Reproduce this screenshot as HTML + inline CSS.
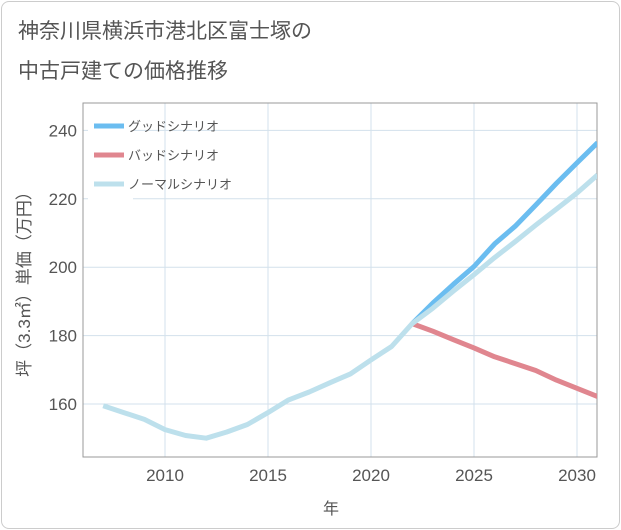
<!DOCTYPE html>
<html><head><meta charset="utf-8"><style>
body{margin:0;background:#fff;font-family:"Liberation Sans","Noto Sans CJK JP",sans-serif}
#card{position:absolute;left:1px;top:1px;width:617px;height:526px;border:1px solid #ccc;border-radius:8px;background:#fff}
</style></head><body>
<div id="card"></div>
<svg id="chart" width="621" height="530" style="position:absolute;left:0;top:0">
<text x="18" y="38" font-size="21" fill="#555">神奈川県横浜市港北区富士塚の</text>
<text x="18" y="78" font-size="21" fill="#555">中古戸建ての価格推移</text>
<g id="grid"></g>
<rect x="83" y="103" width="514" height="354" fill="none" stroke="#999" stroke-width="1"/>
<defs><clipPath id="clip"><rect x="83" y="103" width="514" height="354"/></clipPath></defs>
<g id="lines" clip-path="url(#clip)"></g>
<g id="legend"></g>
<text x="0" y="0" transform="translate(30,280) rotate(-90)" text-anchor="middle" font-size="17" fill="#555">坪（3.3㎡）単価（万円）</text>
<text x="331" y="514" text-anchor="middle" font-size="16" fill="#555">年</text>
</svg>
<script>
const years=[2007,2008,2009,2010,2011,2012,2013,2014,2015,2016,2017,2018,2019,2020,2021,2022,2023,2024,2025,2026,2027,2028,2029,2030,2031];
const normalValues=[159.5,157.5,155.5,152.5,150.8,150,151.8,154,157.5,161.2,163.5,166.2,168.8,172.9,176.8,183.5,188,193,197.8,202.8,207.5,212.3,217,221.7,227];
const futureYears=[2022,2023,2024,2025,2026,2027,2028,2029,2030,2031];
const goodValues=[183.5,189.5,195,200.2,206.8,212,218.2,224.5,230.5,236.4];
const badValues=[183.5,181.3,178.8,176.4,173.8,171.8,169.8,167,164.6,162.2];
const xTicks=[2010,2015,2020,2025,2030];
const yTicks=[160,180,200,220,240];
const legendLabels=["グッドシナリオ","バッドシナリオ","ノーマルシナリオ"];
const NS="http://www.w3.org/2000/svg";
function xs(y){return 165+(y-2010)*20.6;}
function ys(v){return 404-(v-160)*3.42;}
const grid=document.getElementById('grid');
function mk(tag,attrs,parent){const e=document.createElementNS(NS,tag);for(const k in attrs)e.setAttribute(k,attrs[k]);parent.appendChild(e);return e;}
xTicks.forEach(t=>{
 const l=mk('line',{x1:xs(t),x2:xs(t),y1:103,y2:457,stroke:'#d3e1ec','stroke-width':1},grid);
 
 
 const tx=mk('text',{x:xs(t),y:481,'text-anchor':'middle','font-size':17,fill:'#555'},grid);
 tx.textContent=t;
 
 
});
yTicks.forEach(t=>{
 const l=mk('line',{x1:83,x2:597,y1:ys(t),y2:ys(t),stroke:'#d3e1ec','stroke-width':1},grid);
 
 
 const tx=mk('text',{x:77,y:ys(t)+6,'text-anchor':'end','font-size':17,fill:'#555'},grid);
 tx.textContent=t;
 
 
});
const lines=document.getElementById('lines');
function path(xsArr,vals,color,name){
 const d=xsArr.map((y,i)=>(i?'L':'M')+xs(y).toFixed(1)+','+ys(vals[i]).toFixed(1)).join(' ');
 const p=mk('path',{d:d,fill:'none',stroke:color,'stroke-width':5,'stroke-linejoin':'round'},lines);
 
 
}
path(futureYears,goodValues,'#6bbdf0','good-scenario-line');
path(futureYears,badValues,'#e0868f','bad-scenario-line');
path(years,normalValues,'#bde0ec','normal-scenario-line');
const lg=document.getElementById('legend');
const bg=mk('rect',{x:88,y:110,width:45,height:92,fill:'#fff'},lg);


const colors=['#6bbdf0','#e0868f','#bde0ec'];
legendLabels.forEach((lab,i)=>{
 const y=126+i*29;
 const l=mk('line',{x1:94,x2:124,y1:y,y2:y,stroke:colors[i],'stroke-width':5},lg);
 
 
 const t=mk('text',{x:128,y:y+5,'font-size':13,fill:'#555'},lg);
 t.textContent=lab;
 
 
});
</script>
</body></html>
